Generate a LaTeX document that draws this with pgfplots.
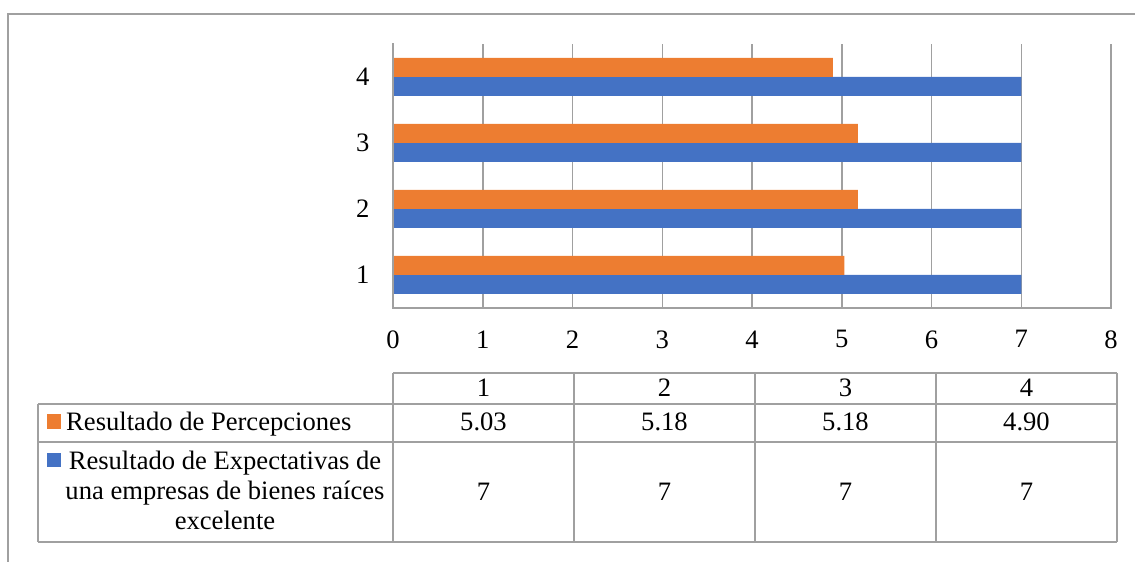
\documentclass[border=0pt]{standalone}
\usepackage{pgfplots}
\pgfplotsset{compat=1.18}
\usepackage{fontspec}
\setmainfont{Liberation Serif}
\definecolor{cOrange}{HTML}{ED7D31}
\definecolor{cBlue}{HTML}{4472C4}
\definecolor{cGrid}{HTML}{A0A0A0}
\begin{document}
\begin{tikzpicture}[x=1pt,y=1pt,font=\fontsize{26.6}{30}\selectfont]
\useasboundingbox (0,0) rectangle (1135,562);
% outer frame
\draw[cGrid, line width=1.3pt] (8,0) -- (8,548) -- (1135,548);
\begin{axis}[at={(393pt,254pt)}, anchor=south west, width=718pt, height=264pt, scale only axis,
 xbar, xmin=0, xmax=8, ymin=0.5, ymax=4.5, xtick={0,...,8}, ytick={1,2,3,4},
 axis line style={draw=none}, xtick pos=bottom, ytick pos=left,
 xmajorgrids, major grid style={cGrid, line width=1.5pt}, major tick length=0pt,
 tick style={draw=none},
 /pgf/number format/assume math mode=true,
 ticklabel style={font=\fontsize{26.6}{30}\selectfont},
 xticklabel style={yshift=-19pt}, yticklabel style={xshift=-20pt},
 bar width=19pt, clip=false]
\addplot[fill=cBlue, draw=none, bar shift=-9.5pt] coordinates {(7,1) (7,2) (7,3) (7,4)};
\addplot[fill=cOrange, draw=none, bar shift=9.5pt] coordinates {(5.03,1) (5.18,2) (5.18,3) (4.90,4)};
\draw[cGrid, line width=1.5pt, line cap=rect] (axis cs:0,4.5) -- (axis cs:0,0.5) -- (axis cs:8,0.5);
\end{axis}
% data table
\begin{scope}[cGrid, line width=1.5pt]
\draw (393,189) -- (1117,189);
\draw (38,158) -- (1117,158);
\draw (38,120) -- (1117,120);
\draw (38,20) -- (1117,20);
\draw (38,158) -- (38,20);
\foreach \xx in {393,574,755,936,1117} {\draw (\xx,189) -- (\xx,20);}
\end{scope}
\foreach \xx/\lab in {483.5/1,664.5/2,845.5/3,1026.5/4} {\node[anchor=base, inner sep=0pt] at (\xx,165) {\lab};}
\foreach \xx/\lab in {483.5/5.03,664.5/5.18,845.5/5.18,1026.5/4.90} {\node[anchor=base, inner sep=0pt] at (\xx,131) {\lab};}
\foreach \xx in {483.5,664.5,845.5,1026.5} {\node[anchor=base, inner sep=0pt] at (\xx,61) {7};}
\fill[cOrange] (47,133) rectangle (61,148);
\fill[cBlue] (47,95) rectangle (61,109);
\node[anchor=base west, inner sep=0pt] at (66,131) {Resultado de Percepciones};
\node[anchor=base, inner sep=0pt] at (225,92) {Resultado de Expectativas de};
\node[anchor=base, inner sep=0pt] at (225,62) {una empresas de bienes raíces};
\node[anchor=base, inner sep=0pt] at (225,32) {excelente};
\end{tikzpicture}
\end{document}
